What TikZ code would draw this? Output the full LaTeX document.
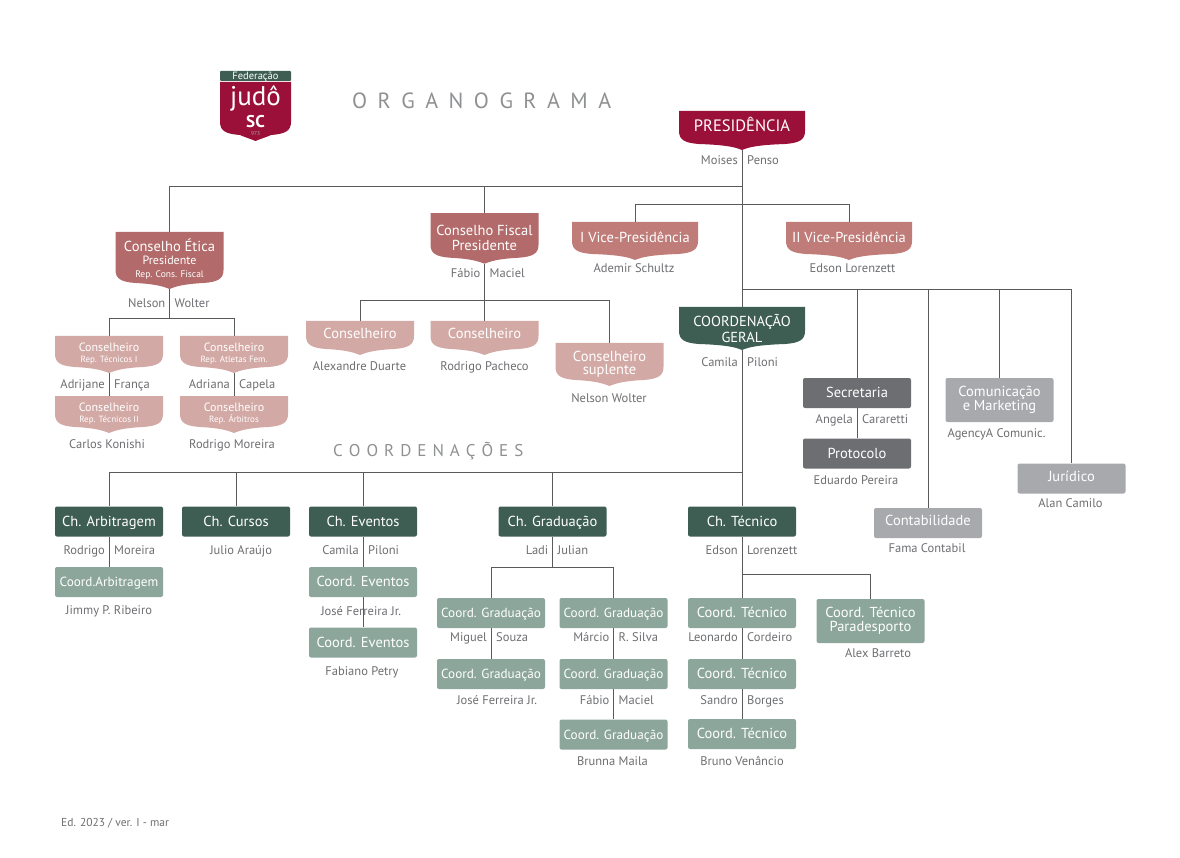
\documentclass[tikz,border=0pt]{standalone}
\usepackage{fontspec}
\setmainfont{PT Sans}
\usepackage{xcolor}
\usetikzlibrary{backgrounds}
\definecolor{fjred}{HTML}{9B1039}
\definecolor{fjrose}{HTML}{B26A6A}
\definecolor{fjsalmon}{HTML}{BF7C78}
\definecolor{fjpink}{HTML}{D3A9A5}
\definecolor{fjgreen}{HTML}{3F5E53}
\definecolor{fjsage}{HTML}{8CA69C}
\definecolor{fjgray}{HTML}{6D6E71}
\definecolor{fjsilver}{HTML}{A7A9AC}
\definecolor{fjtext}{HTML}{6D6E71}
\definecolor{fjline}{HTML}{5A5A5A}
\tikzset{
  shieldbox/.style={inner sep=0pt,text=white,align=center,minimum width=108pt,font=\fontsize{14.5}{13}\selectfont,
    path picture={
      \coordinate (sE) at (path picture bounding box.south east);
      \coordinate (sW) at (path picture bounding box.south west);
      \coordinate (sM) at (path picture bounding box.south);
      \fill[#1] (path picture bounding box.north west) -- (path picture bounding box.north east)
        -- ([yshift=19pt]sE) .. controls ([yshift=10pt]sE) and ([xshift=-6pt,yshift=7pt]sE) .. ([xshift=-20pt,yshift=6pt]sE)
        .. controls ([xshift=14pt,yshift=5pt]sM) and ([xshift=6pt,yshift=2.5pt]sM) .. (sM)
        .. controls ([xshift=-6pt,yshift=2.5pt]sM) and ([xshift=-14pt,yshift=5pt]sM) .. ([xshift=20pt,yshift=6pt]sW)
        .. controls ([xshift=6pt,yshift=7pt]sW) and ([yshift=10pt]sW) .. ([yshift=19pt]sW) -- cycle;
    }},
  consbox/.style={shieldbox=fjpink,minimum height=37pt,text depth=4pt,font=\fontsize{12}{11}\selectfont},
  plainbox/.style={inner sep=0pt,text=white,align=center,minimum width=108pt,minimum height=30pt,rounded corners=2pt,fill=#1,
    font=\fontsize{14.5}{14}\selectfont,text height=10pt,text depth=1pt},
  twolines/.style={text height=,text depth=,minimum height=44pt},
  tight/.style={font=\fontsize{13.2}{14}\selectfont},
  who/.style={text=fjtext,inner sep=0pt,yshift=-1pt,font=\fontsize{12.5}{12}\selectfont,text height=9pt,text depth=2.5pt},
  whoL/.style={who,anchor=east,xshift=-4pt},
  whoR/.style={who,anchor=west,xshift=5pt},
  wire/.style={draw=fjline,line width=0.8pt},
  small/.style={font=\fontsize{9}{10}\selectfont}
}
\begin{document}
\begin{tikzpicture}[x=1pt,y=-1pt]
  \useasboundingbox (0,0) rectangle (1180,858);

  % logo
  \node[plainbox=fjgreen,minimum width=71pt,minimum height=10pt,font=\fontsize{10.5}{9}\selectfont,text height=6pt,text depth=0pt,rounded corners=1pt] (logoband) at (255.5,76) {\raisebox{-1pt}{Federação}};
  \node[shieldbox=fjred,minimum width=71pt,minimum height=59pt] (logoshield) at (255.5,111.5) {};
  \node[text=white,inner sep=0pt,font=\fontsize{27}{27}\selectfont] (logojudo) at (255.5,98) {judô};
  \node[text=white,inner sep=0pt,font=\fontsize{17}{17}\bfseries\selectfont] (logosc) at (255.5,122) {SC};
  \node[text=fjsilver,inner sep=0pt,font=\fontsize{5.5}{6}\selectfont] (logoyear) at (255.5,134) {973};

  % titles
  \node[text=fjsilver!85!black,inner sep=0pt,font=\fontsize{22}{22}\selectfont,anchor=west] (title) at (352,101) {\spaceskip=10.5pt O R G A N O G R A M A};
  \node[text=fjsilver!85!black,inner sep=0pt,font=\fontsize{17}{17}\selectfont,anchor=west] (subtitle) at (333,451) {\spaceskip=6pt C O O R D E N A Ç Õ E S};
  \node[text=fjtext,inner sep=0pt,font=\fontsize{11.5}{11}\selectfont,anchor=west] (edition) at (61,823) {Ed. 2023 / ver. I - mar};

  % top
  \node[shieldbox=fjred,minimum width=126pt,minimum height=39pt,text depth=13pt,font=\fontsize{16.5}{15}\selectfont] (pres) at (742,130.5) {PRESIDÊNCIA};
  \node[whoL] (n1a) at (742,160) {Moises};
  \node[whoR] (n1b) at (742,160) {Penso};

  \node[shieldbox=fjrose,minimum height=57pt,text depth=5pt] (cetica) at (169.5,260.5) {Conselho Ética\\[0pt]{\fontsize{12}{12}\selectfont Presidente}\\[0pt]{\fontsize{9.5}{10}\selectfont Rep. Cons. Fiscal}};
  \node[whoL] (n2a) at (169.5,303) {Nelson};
  \node[whoR] (n2b) at (169.5,303) {Wolter};

  \node[consbox] (cons1) at (109,354.5) {Conselheiro\\{\small Rep. Técnicos I}};
  \node[consbox] (cons2) at (234,354.5) {Conselheiro\\{\small Rep. Atletas Fem.}};
  \node[whoL] (n3a) at (109,384) {Adrijane};
  \node[whoR] (n3b) at (109,384) {França};
  \node[whoL] (n4a) at (234,384) {Adriana};
  \node[whoR] (n4b) at (234,384) {Capela};
  \node[consbox] (cons3) at (109,414.5) {Conselheiro\\{\small Rep. Técnicos II}};
  \node[consbox] (cons4) at (234,414.5) {Conselheiro\\{\small Rep. Árbitros}};
  \node[who] (n5) at (107,444) {Carlos Konishi};
  \node[who] (n6) at (232,444) {Rodrigo Moreira};

  \node[shieldbox=fjrose,minimum height=50.5pt,text depth=1pt] (cfiscal) at (484.5,238.5) {Conselho Fiscal\\[2pt]Presidente};
  \node[whoL] (n7a) at (484.5,273) {Fábio};
  \node[whoR] (n7b) at (484.5,273) {Maciel};
  \node[shieldbox=fjpink,minimum height=34pt,text depth=10pt] (cf1) at (360,338) {Conselheiro};
  \node[shieldbox=fjpink,minimum height=34pt,text depth=10pt] (cf2) at (484.5,338) {Conselheiro};
  \node[shieldbox=fjpink,minimum height=43pt,text depth=4pt] (cf3) at (609.5,364.5) {Conselheiro\\suplente};
  \node[who] (n8) at (359.5,366) {Alexandre Duarte};
  \node[who] (n9) at (484.5,366) {Rodrigo Pacheco};
  \node[who] (n10) at (609,398) {Nelson Wolter};

  \node[shieldbox=fjsalmon,minimum width=126pt,minimum height=38pt,text depth=7pt] (vice1) at (635,241) {I Vice-Presidência};
  \node[shieldbox=fjsalmon,minimum width=126pt,minimum height=38pt,text depth=7pt] (vice2) at (849,241) {II Vice-Presidência};
  \node[who] (n11) at (634,268) {Ademir Schultz};
  \node[who] (n12) at (852.5,268) {Edson Lorenzett};

  \node[shieldbox=fjgreen,minimum width=126pt,minimum height=43pt,text depth=0pt] (cgeral) at (742,328.5) {COORDENAÇÃO\\[1pt]GERAL};
  \node[whoL] (n13a) at (742,362) {Camila};
  \node[whoR] (n13b) at (742,362) {Piloni};

  % right side
  \node[plainbox=fjgray] (secret) at (857,393) {Secretaria};
  \node[whoL] (n14a) at (857,419) {Angela};
  \node[whoR] (n14b) at (857,419) {Cararetti};
  \node[plainbox=fjgray] (protoc) at (857,453.5) {Protocolo};
  \node[who] (n15) at (856,480) {Eduardo Pereira};
  \node[plainbox=fjsilver,twolines] (comun) at (999.5,400) {Comunicação\\e Marketing};
  \node[who] (n16) at (996.5,433) {AgencyA Comunic.};
  \node[plainbox=fjsilver,text depth=5pt] (jurid) at (1071.5,478.5) {Jurídico};
  \node[who] (n17) at (1070.5,503) {Alan Camilo};
  \node[plainbox=fjsilver,text depth=5pt] (contab) at (928,523) {Contabilidade};
  \node[who] (n18) at (927,548) {Fama Contabil};

  % chefias
  \node[plainbox=fjgreen] (charb) at (109,521.5) {Ch. Arbitragem};
  \node[plainbox=fjgreen] (ccurs) at (236,521.5) {Ch. Cursos};
  \node[plainbox=fjgreen] (cheve) at (363,521.5) {Ch. Eventos};
  \node[plainbox=fjgreen] (cgrad) at (552.5,521.5) {Ch. Graduação};
  \node[plainbox=fjgreen] (ctecn) at (742,521.5) {Ch. Técnico};
  \node[whoL] (n20a) at (109,550) {Rodrigo};
  \node[whoR] (n20b) at (109,550) {Moreira};
  \node[who] (n21) at (241,550) {Julio Araújo};
  \node[whoL] (n22a) at (363,550) {Camila};
  \node[whoR] (n22b) at (363,550) {Piloni};
  \node[whoL] (n23a) at (552.5,550) {Ladi};
  \node[whoR] (n23b) at (552.5,550) {Julian};
  \node[whoL] (n24a) at (742,550) {Edson};
  \node[whoR] (n24b) at (742,550) {Lorenzett};

  \node[plainbox=fjsage,tight] (karb) at (109,582) {Coord.Arbitragem};
  \node[who] (n25) at (109,610) {Jimmy P. Ribeiro};
  \node[plainbox=fjsage] (keve1) at (363,582) {Coord. Eventos};
  \node[who] (n26) at (361,611) {José Ferreira Jr.};
  \node[plainbox=fjsage] (keve2) at (363,642.5) {Coord. Eventos};
  \node[who] (n27) at (362,671) {Fabiano Petry};

  \node[plainbox=fjsage,tight] (kgra1) at (491,613) {Coord. Graduação};
  \node[plainbox=fjsage,tight] (kgra2) at (613.5,613) {Coord. Graduação};
  \node[whoL] (n28a) at (491,637) {Miguel};
  \node[whoR] (n28b) at (491,637) {Souza};
  \node[whoL] (n29a) at (613.5,637) {Márcio};
  \node[whoR] (n29b) at (613.5,637) {R. Silva};
  \node[plainbox=fjsage,tight] (kgra3) at (491,674) {Coord. Graduação};
  \node[plainbox=fjsage,tight] (kgra4) at (613.5,674) {Coord. Graduação};
  \node[who] (n30) at (497,700) {José Ferreira Jr.};
  \node[whoL] (n31a) at (613.5,700) {Fábio};
  \node[whoR] (n31b) at (613.5,700) {Maciel};
  \node[plainbox=fjsage,tight] (kgra5) at (613.5,734.5) {Coord. Graduação};
  \node[who] (n32) at (612.5,761) {Brunna Maila};

  \node[plainbox=fjsage] (ktec1) at (742,613) {Coord. Técnico};
  \node[whoL] (n33a) at (742,637) {Leonardo};
  \node[whoR] (n33b) at (742,637) {Cordeiro};
  \node[plainbox=fjsage] (ktec2) at (742,674) {Coord. Técnico};
  \node[whoL] (n34a) at (742,700) {Sandro};
  \node[whoR] (n34b) at (742,700) {Borges};
  \node[plainbox=fjsage] (ktec3) at (742,734) {Coord. Técnico};
  \node[who] (n35) at (742,761) {Bruno Venâncio};
  \node[plainbox=fjsage,twolines] (ktec4) at (870.5,621) {Coord. Técnico\\Paradesporto};
  \node[who] (n36) at (878,653) {Alex Barreto};

  % buses
  \coordinate (bus186) at (742,186);
  \coordinate (bus204) at (742,204);
  \coordinate (bus289) at (742,289);
  \coordinate (bus472) at (742,472);
  \coordinate (bus318) at (169.5,318);
  \coordinate (bus300) at (484.5,300);
  \coordinate (bus567) at (552.5,567);
  \coordinate (bus574) at (742,574);

  \begin{scope}[on background layer]
    \draw[wire] (pres.south) -- (cgeral.north);
    \draw[wire] (cgeral.south) -- (bus472);
    \draw[wire] (bus186) -| (cetica.north);
    \draw[wire] (bus186) -| (cfiscal.north);
    \draw[wire] (bus204) -| (vice1.north);
    \draw[wire] (bus204) -| (vice2.north);
    \draw[wire] (bus289) -| (secret.north);
    \draw[wire] (bus289) -| (contab.north);
    \draw[wire] (bus289) -| (comun.north);
    \draw[wire] (bus289) -| (jurid.north);
    \draw[wire] (secret.south) -- (protoc.north);
    \draw[wire] (cetica.south) -- (bus318);
    \draw[wire] (bus318) -| (cons1.north);
    \draw[wire] (bus318) -| (cons2.north);
    \draw[wire] (cons1.south) -- (cons3.north);
    \draw[wire] (cons2.south) -- (cons4.north);
    \draw[wire] (cfiscal.south) -- (bus300);
    \draw[wire] (bus300) -| (cf1.north);
    \draw[wire] (bus300) -- (cf2.north);
    \draw[wire] (bus300) -| (cf3.north);
    \draw[wire] (bus472) -| (charb.north);
    \draw[wire] (bus472) -| (ccurs.north);
    \draw[wire] (bus472) -| (cheve.north);
    \draw[wire] (bus472) -| (cgrad.north);
    \draw[wire] (bus472) -- (ctecn.north);
    \draw[wire] (charb.south) -- (karb.north);
    \draw[wire] (cheve.south) -- (keve1.north);
    \draw[wire] (keve1.south) -- (keve2.north);
    \draw[wire] (cgrad.south) -- (bus567);
    \draw[wire] (bus567) -| (kgra1.north);
    \draw[wire] (bus567) -| (kgra2.north);
    \draw[wire] (kgra1.south) -- (kgra3.north);
    \draw[wire] (kgra2.south) -- (kgra4.north);
    \draw[wire] (kgra4.south) -- (kgra5.north);
    \draw[wire] (ctecn.south) -- (ktec1.north);
    \draw[wire] (bus574) -| (ktec4.north);
    \draw[wire] (ktec1.south) -- (ktec2.north);
    \draw[wire] (ktec2.south) -- (ktec3.north);
  \end{scope}
\end{tikzpicture}
\end{document}
